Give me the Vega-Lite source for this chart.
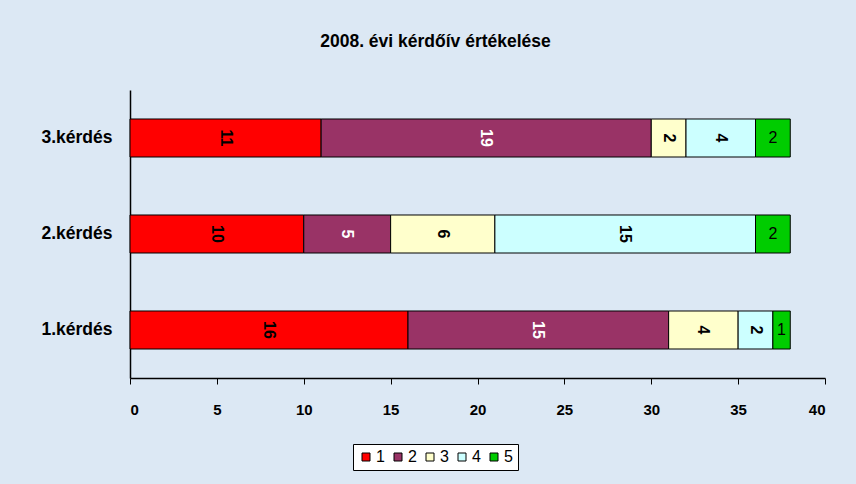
{
  "$schema": "https://vega.github.io/schema/vega-lite/v6.json",
  "autosize": "none",
  "width": 695,
  "height": 288,
  "padding": {"left": 130, "top": 90, "right": 31, "bottom": 106},
  "background": "#DCE8F4",
  "config": {
    "view": {"stroke": null},
    "font": "Liberation Sans"
  },
  "title": {
    "text": "2008. évi kérdőív értékelése",
    "font": "Liberation Sans",
    "fontSize": 17.5,
    "fontWeight": "bold",
    "color": "#000000",
    "anchor": "middle",
    "dx": -42,
    "offset": 40
  },
  "data": {
    "values": [
      {"q": "3.kérdés", "s": "1", "v": 11},
      {"q": "3.kérdés", "s": "2", "v": 19},
      {"q": "3.kérdés", "s": "3", "v": 2},
      {"q": "3.kérdés", "s": "4", "v": 4},
      {"q": "3.kérdés", "s": "5", "v": 2},
      {"q": "2.kérdés", "s": "1", "v": 10},
      {"q": "2.kérdés", "s": "2", "v": 5},
      {"q": "2.kérdés", "s": "3", "v": 6},
      {"q": "2.kérdés", "s": "4", "v": 15},
      {"q": "2.kérdés", "s": "5", "v": 2},
      {"q": "1.kérdés", "s": "1", "v": 16},
      {"q": "1.kérdés", "s": "2", "v": 15},
      {"q": "1.kérdés", "s": "3", "v": 4},
      {"q": "1.kérdés", "s": "4", "v": 2},
      {"q": "1.kérdés", "s": "5", "v": 1}
    ]
  },
  "transform": [
    {"stack": "v", "groupby": ["q"], "sort": [{"field": "s", "order": "ascending"}], "as": ["x0", "x1"]},
    {"calculate": "(datum.x0 + datum.x1) / 2", "as": "mid"}
  ],
  "encoding": {
    "y": {
      "field": "q",
      "type": "nominal",
      "sort": ["3.kérdés", "2.kérdés", "1.kérdés"],
      "scale": {"paddingInner": 0.604, "paddingOuter": 0.302},
      "axis": {
        "title": null,
        "domainColor": "#000000",
        "domainWidth": 1.5,
        "ticks": false,
        "labelFont": "Liberation Sans",
        "labelFontSize": 17.5,
        "labelFontWeight": "bold",
        "labelColor": "#000000",
        "labelPadding": 18
      }
    }
  },
  "layer": [
    {
      "mark": {"type": "bar", "stroke": "#000000", "strokeWidth": 1},
      "encoding": {
        "x": {
          "field": "x0",
          "type": "quantitative",
          "scale": {"domain": [0, 40]},
          "axis": {
            "title": null,
            "values": [0, 5, 10, 15, 20, 25, 30, 35, 40],
            "grid": false,
            "domainColor": "#000000",
            "domainWidth": 1.5,
            "tickColor": "#000000",
            "tickSize": 6,
            "labelFont": "Liberation Sans",
            "labelFontSize": 15,
            "labelFontWeight": "bold",
            "labelColor": "#000000",
            "labelPadding": 18
          }
        },
        "x2": {"field": "x1"},
        "color": {
          "field": "s",
          "type": "nominal",
          "scale": {
            "domain": ["1", "2", "3", "4", "5"],
            "range": ["#FF0000", "#993366", "#FFFFCC", "#CCFFFF", "#00CC00"]
          },
          "legend": {
            "title": null,
            "orient": "none",
            "legendX": 223,
            "legendY": 354,
            "direction": "horizontal",
            "columns": 5,
            "symbolType": "square",
            "symbolSize": 64,
            "symbolStrokeColor": "#000000",
            "symbolStrokeWidth": 1,
            "labelFont": "Liberation Sans",
            "labelFontSize": 16,
            "labelColor": "#000000",
            "labelOffset": 2,
            "columnPadding": 5,
            "strokeColor": "#000000",
            "fillColor": "#FFFFFF",
            "padding": 5
          }
        }
      }
    },
    {
      "transform": [{"filter": "datum.s != '5'"}],
      "mark": {"type": "text", "angle": 90, "fontWeight": "bold", "fontSize": 16, "font": "Liberation Sans", "align": "center", "baseline": "middle"},
      "encoding": {
        "x": {"field": "mid", "type": "quantitative"},
        "text": {"field": "v", "type": "quantitative"},
        "color": {"condition": {"test": "datum.s == '2'", "value": "#FFFFFF"}, "value": "#000000"}
      }
    },
    {
      "transform": [{"filter": "datum.s == '5'"}],
      "mark": {"type": "text", "fontSize": 16, "font": "Liberation Sans", "align": "center", "baseline": "middle", "color": "#000000"},
      "encoding": {
        "x": {"field": "mid", "type": "quantitative"},
        "text": {"field": "v", "type": "quantitative"}
      }
    }
  ]
}
